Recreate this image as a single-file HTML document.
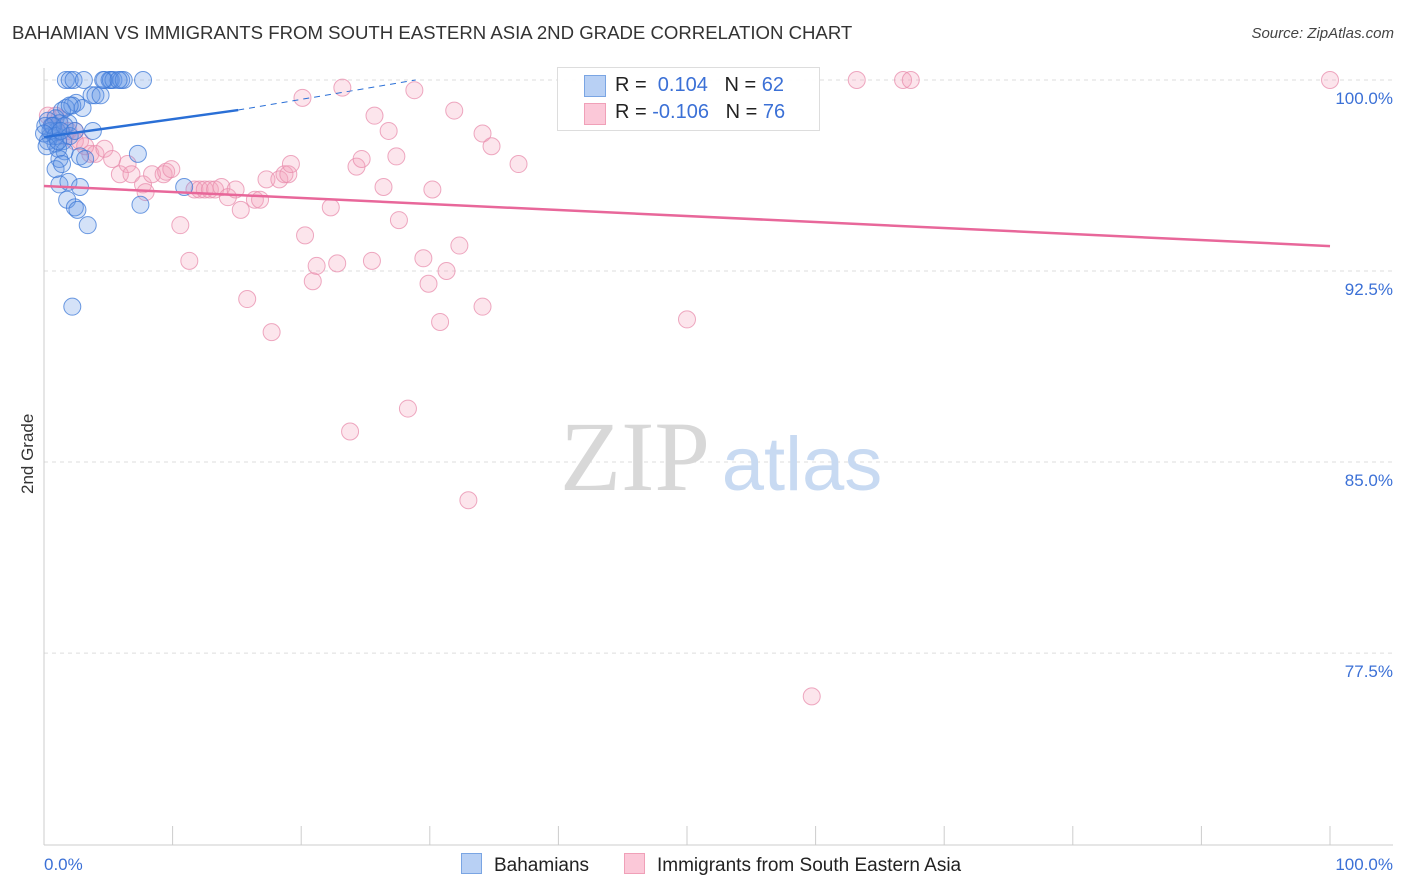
<!DOCTYPE html>
<html><head><meta charset="utf-8"><style>
body{margin:0;background:#fff;font-family:"Liberation Sans",sans-serif;}
#wrap{position:relative;width:1406px;height:892px;overflow:hidden;}
.t{position:absolute;white-space:nowrap;}
</style></head><body>
<div id="wrap">
<div class="t" style="left:12px;top:22px;font-size:18.6px;color:#333;">BAHAMIAN VS IMMIGRANTS FROM SOUTH EASTERN ASIA 2ND GRADE CORRELATION CHART</div>
<div class="t" style="right:12px;top:25px;font-size:15px;color:#444;font-style:italic;">Source: ZipAtlas.com</div>
<div class="t" style="left:-12px;top:444px;font-size:17px;color:#333;transform:rotate(-90deg);width:80px;text-align:center;">2nd Grade</div>
<svg id="svg" width="1406" height="892" style="position:absolute;left:0;top:0"></svg>
<div class="t" style="left:557px;top:67px;width:261px;height:62px;border:1px solid #ddd;background:rgba(255,255,255,0.9);"></div>
<div class="t" style="left:584px;top:75px;width:20px;height:20px;background:#b8d0f4;border:1px solid #7aa5e3;"></div>
<div class="t" style="left:584px;top:103px;width:20px;height:20px;background:#fbc8d8;border:1px solid #f0a0b8;"></div>
<div class="t" style="left:615px;top:74px;font-size:20px;color:#222;">R = &nbsp;<span style="color:#3b70d6">0.104</span>&nbsp;&nbsp; N = <span style="color:#3b70d6">62</span></div>
<div class="t" style="left:615px;top:101px;font-size:20px;color:#222;">R = <span style="color:#3b70d6">-0.106</span>&nbsp;&nbsp; N = <span style="color:#3b70d6">76</span></div>
<div class="t" style="left:461px;top:853px;font-size:19px;color:#222;"><span style="display:inline-block;width:19px;height:19px;background:#b8d0f4;border:1px solid #7aa5e3;vertical-align:-3px;margin-right:12px"></span>Bahamians</div>
<div class="t" style="left:624px;top:853px;font-size:19px;color:#222;"><span style="display:inline-block;width:19px;height:19px;background:#fbc8d8;border:1px solid #f0a0b8;vertical-align:-3px;margin-right:12px"></span>Immigrants from South Eastern Asia</div>
</div>
<script>
const blueX=[1.7,2.0,2.3,3.1,4.7,5.1,5.2,5.4,6.0,6.2,7.7,3.7,4.0,4.4,2.5,4.6,1.7,2.2,3.0,1.4,2.0,0.9,1.2,1.9,0.3,0.6,0.5,1.0,1.5,0.9,0.3,3.8,1.1,1.6,1.2,2.8,3.2,7.3,0.9,1.4,1.2,1.9,2.8,1.8,2.4,2.6,3.4,7.5,10.9,2.2,0.5,0.1,0.7,0.9,0.0,0.2,1.6,2.0,1.1,1.3,2.4,5.8];
const blueY=[100,100,100,100,100,100,100,100,100,100,100,99.4,99.4,99.4,99.1,100,98.9,99.0,98.9,98.8,99.0,98.5,98.3,98.3,98.4,98.2,97.8,98.0,97.6,97.5,97.6,98.0,97.3,97.2,96.9,97.0,96.9,97.1,96.5,96.7,95.9,96.0,95.8,95.3,95.0,94.9,94.3,95.1,95.8,91.1,98.0,98.2,98.2,97.8,97.9,97.4,98.2,97.8,97.6,98.0,98.0,100];
const pinkX=[0.3,0.9,1.2,0.6,1.9,2.4,1.6,2.8,3.6,4.0,4.7,5.3,5.9,6.5,6.8,7.7,7.9,8.4,9.3,9.5,9.9,10.6,11.3,11.7,12.1,12.5,12.9,13.3,13.8,14.3,14.9,15.3,15.8,16.4,16.8,17.3,17.7,18.3,18.7,19.0,19.2,20.1,20.3,20.9,21.2,22.3,22.8,23.2,23.8,24.3,24.7,25.5,25.7,26.4,26.8,27.4,27.6,28.3,28.8,29.5,29.9,30.2,30.8,31.3,31.9,32.3,33.0,34.1,34.1,34.8,36.9,50.0,59.7,63.2,66.8,67.4,100,2.4,3.2];
const pinkY=[98.6,98.6,98.5,98.2,98.0,98.0,97.8,97.6,97.1,97.1,97.3,96.9,96.3,96.7,96.3,95.9,95.6,96.3,96.3,96.4,96.5,94.3,92.9,95.7,95.7,95.7,95.7,95.7,95.8,95.4,95.7,94.9,91.4,95.3,95.3,96.1,90.1,96.1,96.3,96.3,96.7,99.3,93.9,92.1,92.7,95.0,92.8,99.7,86.2,96.6,96.9,92.9,98.6,95.8,98.0,97.0,94.5,87.1,99.6,93.0,92.0,95.7,90.5,92.5,98.8,93.5,83.5,97.9,91.1,97.4,96.7,90.6,75.8,100,100,100,100,97.6,97.4];
const blueTrend=[97.76,98.82,100.0]; const blueTrendX=[0,15.1,28.9];
const pinkTrend=[95.84,93.48]; const pinkTrendX=[0,100];
const yTicks=[100,92.5,85,77.5]; const yTickLabels=["100.0%","92.5%","85.0%","77.5%"];
const xTicks=[0,10,20,30,40,50,60,70,80,90,100];

const NS="http://www.w3.org/2000/svg",svg=document.getElementById('svg');
const X0=44,X1=1330,Y0=80,PPY=25.47;
const sx=v=>X0+(X1-X0)*v/100, sy=v=>Y0+(100-v)*PPY;
function mk(t,a){const e=document.createElementNS(NS,t);for(const k in a)e.setAttribute(k,a[k]);svg.appendChild(e);return e;}
yTicks.forEach((v,i)=>{
  const g=mk('line',{x1:44,x2:1393,y1:sy(v),y2:sy(v),stroke:'#ddd','stroke-dasharray':'4,4'});
  
  
  const t=mk('text',{x:1393,y:sy(v)+24,'text-anchor':'end','font-size':17,fill:'#3b70d6','font-family':'Liberation Sans'});
  t.textContent=yTickLabels[i];
  
  
});
const ax=mk('line',{x1:44,x2:1393,y1:845,y2:845,stroke:'#ccc'});


const ay=mk('line',{x1:44,x2:44,y1:68,y2:845,stroke:'#ccc'});


xTicks.forEach(v=>{const l=mk('line',{x1:sx(v),x2:sx(v),y1:826,y2:845,stroke:'#ccc'});
  
  });
[["0.0%",44,'start'],["100.0%",1393,'end']].forEach(([s,x,a])=>{const t=mk('text',{x:x,y:870,'text-anchor':a,'font-size':17,fill:'#3b70d6','font-family':'Liberation Sans'});t.textContent=s;
  
  });
const w1=mk('text',{x:635,y:490,'text-anchor':'middle','font-size':100,fill:'#d8d8d8','font-family':'Liberation Serif'});w1.textContent='ZIP';


const w2=mk('text',{x:802,y:490,'text-anchor':'middle','font-size':76,fill:'#c8daf2','font-family':'Liberation Sans'});w2.textContent='atlas';


pinkX.forEach((v,i)=>{const c=mk('circle',{cx:sx(v),cy:sy(pinkY[i]),r:8.5,fill:'rgba(244,160,188,0.28)',stroke:'rgba(232,140,172,0.75)','stroke-width':1});
  
  });
blueX.forEach((v,i)=>{const c=mk('circle',{cx:sx(v),cy:sy(blueY[i]),r:8.5,fill:'rgba(100,150,230,0.28)',stroke:'rgba(60,120,215,0.75)','stroke-width':1});
  
  });
const bl=mk('line',{x1:sx(blueTrendX[0]),y1:sy(blueTrend[0]),x2:sx(blueTrendX[1]),y2:sy(blueTrend[1]),stroke:'#2a6fd6','stroke-width':2.5});


const bd=mk('line',{x1:sx(blueTrendX[1]),y1:sy(blueTrend[1]),x2:sx(blueTrendX[2]),y2:sy(blueTrend[2]),stroke:'#2a6fd6','stroke-width':1,'stroke-dasharray':'6,5'});


const pl=mk('line',{x1:sx(pinkTrendX[0]),y1:sy(pinkTrend[0]),x2:sx(pinkTrendX[1]),y2:sy(pinkTrend[1]),stroke:'#e8679a','stroke-width':2.5});


</script>
</body></html>
